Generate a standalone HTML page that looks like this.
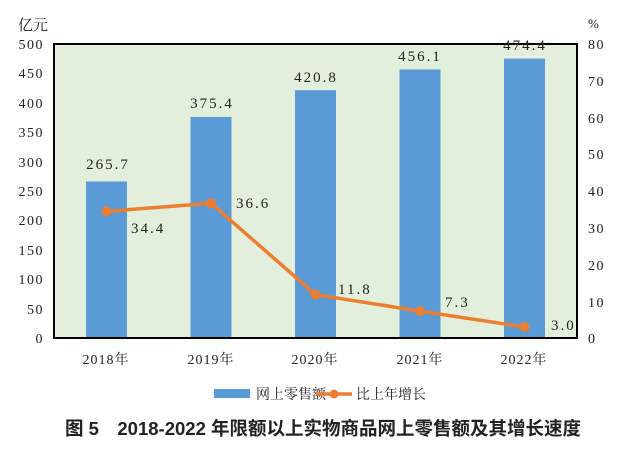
<!DOCTYPE html>
<html><head><meta charset="utf-8"><style>
body{margin:0;background:#fff;}
svg text{font-family:"Liberation Serif","Noto Serif CJK SC",serif;fill:#222;}
</style></head><body>
<svg width="627" height="452" xmlns="http://www.w3.org/2000/svg">
<rect x="54" y="44" width="523" height="294" fill="#e2efda" stroke="#000" stroke-width="2"/>
<g fill="#5b9bd5">
<rect x="86" y="181.5" width="41" height="156.5"/>
<rect x="190.5" y="116.9" width="41" height="221.1"/>
<rect x="295" y="90.2" width="41" height="247.8"/>
<rect x="399.5" y="69.4" width="41" height="268.6"/>
<rect x="504" y="58.6" width="41" height="279.4"/>
</g>
<rect x="54" y="44" width="523" height="294" fill="none" stroke="#000" stroke-width="2"/>
<polyline points="106.5,211.4 211,203.2 315.5,294.6 420,311.1 524.5,327" fill="none" stroke="#ed7d31" stroke-width="3.5"/>
<g fill="#ed7d31">
<circle cx="106.5" cy="211.4" r="5"/><circle cx="211" cy="203.2" r="5"/><circle cx="315.5" cy="294.6" r="5"/><circle cx="420" cy="311.1" r="5"/><circle cx="524.5" cy="327" r="5"/>
</g>
<g font-size="15" text-anchor="middle" letter-spacing="2">
<text x="108" y="169">265.7</text>
<text x="212" y="108">375.4</text>
<text x="316" y="82">420.8</text>
<text x="420" y="61">456.1</text>
<text x="525" y="50">474.4</text>
</g>
<g font-size="15" letter-spacing="2">
<text x="131" y="233">34.4</text>
<text x="236" y="208">36.6</text>
<text x="338" y="294">11.8</text>
<text x="445" y="307">7.3</text>
<text x="551" y="330">3.0</text>
</g>
<g font-size="14" text-anchor="end" letter-spacing="1.5">
<text x="44" y="49">500</text><text x="44" y="78">450</text><text x="44" y="108">400</text>
<text x="44" y="137">350</text><text x="44" y="167">300</text><text x="44" y="196">250</text>
<text x="44" y="225">200</text><text x="44" y="255">150</text><text x="44" y="284">100</text>
<text x="44" y="314">50</text><text x="44" y="343">0</text>
</g>
<g font-size="14" letter-spacing="1.5">
<text x="588" y="49">80</text><text x="588" y="86">70</text><text x="588" y="123">60</text>
<text x="588" y="159">50</text><text x="588" y="196">40</text><text x="588" y="233">30</text>
<text x="588" y="270">20</text><text x="588" y="307">10</text><text x="588" y="343">0</text>
</g>
<text x="18" y="30" font-size="15">亿元</text>
<text x="588" y="28" font-size="13">%</text>
<g font-size="14" text-anchor="middle" letter-spacing="1">
<text x="106" y="364">2018年</text><text x="211" y="364">2019年</text><text x="315" y="364">2020年</text>
<text x="420" y="364">2021年</text><text x="524" y="364">2022年</text>
</g>
<rect x="214" y="389" width="36" height="9" fill="#5b9bd5"/>
<text x="256" y="399" font-size="14">网上零售额</text>
<line x1="316" y1="394" x2="352" y2="394" stroke="#ed7d31" stroke-width="3.5"/>
<circle cx="334" cy="394" r="4.5" fill="#ed7d31"/>
<text x="356" y="399" font-size="14">比上年增长</text>
<text x="323" y="435" text-anchor="middle" style="font-family:'Liberation Sans','Noto Sans CJK SC',sans-serif;font-size:18.5px;font-weight:bold;">图 5　2018-2022 年限额以上实物商品网上零售额及其增长速度</text>
</svg>
</body></html>
